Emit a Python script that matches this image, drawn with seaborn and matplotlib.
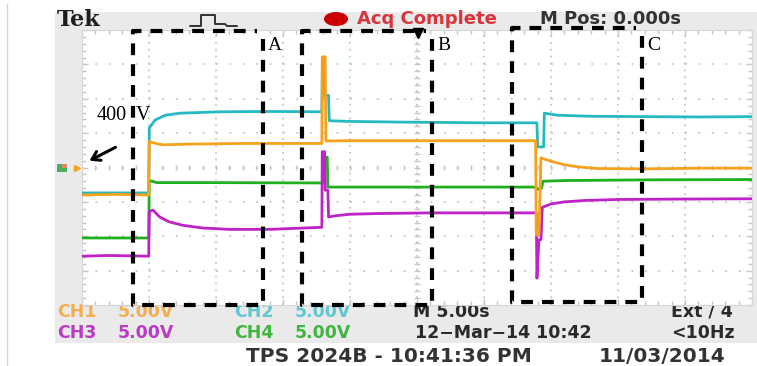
import matplotlib
matplotlib.use("Agg")
import matplotlib.pyplot as plt
from matplotlib.patches import Rectangle, Ellipse
from matplotlib.ticker import MultipleLocator
import numpy as np
import pandas as pd
import seaborn as sns

# Scope settings: 10 divisions at 5 s/div, 8 divisions at 5 V/div
SEC_PER_DIV = 5.0
VOLT_PER_DIV = 5.0

# ---- captured traces (time in s, level in V on screen) ----
ch1_t = [0.0, 2.5, 4.98, 5.02, 5.3, 6.0, 8.0, 12.0, 17.9, 17.93, 18.15, 18.2, 20.0, 26.0,
         33.85, 33.9, 34.1, 34.25, 35.0, 36.0, 37.0, 38.5, 42.0, 46.0, 50.0]
ch1_v = [-4.0, -3.9, -4.0, 3.8, 3.6, 3.3, 3.4, 3.5, 3.5, 16.1, 16.1, 3.85, 3.9, 3.9,
         3.9, -9.8, -9.8, 1.4, 0.9, 0.4, 0.1, -0.15, -0.2, -0.1, -0.1]

ch2_t = [0.0, 4.98, 5.02, 5.45, 6.2, 7.3, 10.3, 14.0, 17.9, 17.95, 18.0, 18.05, 18.4, 18.45,
         20.0, 24.0, 30.0, 33.95, 34.0, 34.45, 34.5, 35.5, 38.0, 42.0, 46.0, 50.0]
ch2_v = [-3.7, -3.7, 5.75, 6.9, 7.6, 7.9, 8.1, 8.15, 8.1, 15.9, 15.9, 10.5, 10.5, 6.8,
         6.7, 6.6, 6.5, 6.5, 3.0, 3.0, 7.9, 7.6, 7.45, 7.4, 7.35, 7.4]

ch3_t = [0.0, 2.0, 4.98, 5.02, 5.3, 5.8, 6.5, 7.5, 9.0, 11.0, 14.0, 17.9, 17.93, 18.1,
         18.15, 18.35, 18.4, 19.0, 20.0, 22.0, 26.0, 33.9, 33.95, 34.1, 34.25, 34.35,
         35.0, 36.0, 37.5, 40.0, 44.0, 50.0]
ch3_v = [-12.9, -12.8, -12.9, -6.4, -6.2, -7.2, -7.9, -8.4, -8.8, -9.0, -9.0, -8.7, 2.3, 2.3,
         -3.3, -3.3, -7.2, -7.0, -6.8, -6.7, -6.6, -6.6, -16.1, -10.5, -10.5, -5.8,
         -5.3, -5.0, -4.8, -4.65, -4.6, -4.55]

ch4_t = [0.0, 4.98, 5.02, 5.6, 10.0, 18.0, 18.05, 18.3, 18.35, 25.0, 33.9, 34.0, 34.3,
         34.4, 36.0, 42.0, 50.0]
ch4_v = [-10.25, -10.25, -1.9, -2.2, -2.2, -2.25, 1.5, 1.5, -2.85, -2.85, -2.85, -3.2, -3.0,
         -2.0, -1.9, -1.8, -1.75]

channel_order = ["CH2", "CH4", "CH3", "CH1"]
trace_colors = {"CH1": "#F5A21E", "CH2": "#25B9C0", "CH3": "#BE22C8", "CH4": "#20AF22"}
label_colors = {"CH1": "#F2AE52", "CH2": "#62C8D0", "CH3": "#BA3CC2", "CH4": "#40B640"}
volts_div_text = "5.00V"

frames = []
for name, t, v in [("CH1", ch1_t, ch1_v), ("CH2", ch2_t, ch2_v),
                   ("CH3", ch3_t, ch3_v), ("CH4", ch4_t, ch4_v)]:
    frames.append(pd.DataFrame({"time": t, "volts": v, "channel": name}))
traces = pd.concat(frames, ignore_index=True)

sns.set_style("white")
plt.rcParams["lines.scale_dashes"] = False

W, H = 757, 366
fig = plt.figure(figsize=(W / 100, H / 100), dpi=100)
fig.patch.set_facecolor("white")

# background layer in pixel coordinates
bg = fig.add_axes([0, 0, 1, 1])
bg.set_xlim(0, W)
bg.set_ylim(H, 0)
bg.axis("off")
bg.set_zorder(0)

panel_gray = "#EAEAEA"
bg.add_patch(Rectangle((55, 12), W - 55, 331, facecolor=panel_gray, edgecolor="none"))
bg.plot([7, 7], [4, H], color="#D4D4D4", lw=1.0)

# graticule area
GX0, GX1, GY0, GY1 = 82, 752, 30, 305
ax = fig.add_axes([GX0 / W, (H - GY1) / H, (GX1 - GX0) / W, (GY1 - GY0) / H])
ax.set_zorder(1)
ax.set_facecolor("white")

sns.lineplot(data=traces, x="time", y="volts", hue="channel", hue_order=channel_order,
             palette=trace_colors, estimator=None, sort=False, legend=False,
             linewidth=2.0, ax=ax, zorder=3)

ax.set_xlim(0, 10 * SEC_PER_DIV)
ax.set_ylim(-4 * VOLT_PER_DIV, 4 * VOLT_PER_DIV)
ax.set_xlabel("")
ax.set_ylabel("")

grid_c = "#C6C6C6"
for k in range(1, 8):
    ax.axhline((k - 4) * VOLT_PER_DIV, color=grid_c, lw=1.3,
               linestyle=(0, (1.3, 8.35)), zorder=1)
for k in range(1, 10):
    ax.axvline(k * SEC_PER_DIV, color=grid_c, lw=1.3,
               linestyle=(0, (1.3, 3.65)), zorder=1)

# minor ticks on the centre cross
cx = 5 * SEC_PER_DIV
minor_v = np.arange(-19, 20, 1.0)
minor_t = np.arange(1, 50, 1.0)
ax.hlines(minor_v, cx - 0.25, cx + 0.25, color=grid_c, lw=1.0, zorder=1)
ax.vlines(minor_t, -0.3, 0.3, color=grid_c, lw=1.0, zorder=1)

ax.xaxis.set_major_locator(MultipleLocator(SEC_PER_DIV))
ax.xaxis.set_minor_locator(MultipleLocator(1.0))
ax.yaxis.set_major_locator(MultipleLocator(VOLT_PER_DIV))
ax.yaxis.set_minor_locator(MultipleLocator(1.0))
ax.tick_params(which="both", direction="in", top=True, right=True, bottom=True, left=True,
               labelbottom=False, labelleft=False, color=grid_c, width=1.0)
ax.tick_params(which="major", length=4)
ax.tick_params(which="minor", length=3)
for s in ax.spines.values():
    s.set_color("#D6D6D6")
    s.set_linewidth(0.8)

# overlay layer for annotations
ov = fig.add_axes([0, 0, 1, 1])
ov.set_xlim(0, W)
ov.set_ylim(H, 0)
ov.axis("off")
ov.patch.set_alpha(0)
ov.set_zorder(2)

dash = (0, (8.5, 6.5))
regions = [("A", 133, 263, 31, 305), ("B", 302, 432, 31, 305), ("C", 512, 642, 28, 302)]
for name, x0, x1, y0, y1 in regions:
    ov.plot([x1, x1, x0, x0, x1 - 6], [y0 + 8, y1, y1, y0, y0], color="black", lw=3.0,
            linestyle=dash, solid_capstyle="butt", dash_capstyle="butt")
    ov.text(x1 + 5, 46, name, family="Liberation Serif", fontsize=14, color="black",
            ha="left", va="center")

ov.text(127, 116, "400", family="Liberation Serif", fontsize=14.5, color="black",
        ha="right", va="center")
ov.text(136, 116, "V", family="Liberation Serif", fontsize=14.5, color="black",
        ha="left", va="center")
ov.annotate("", xy=(87, 162), xytext=(118, 146),
            arrowprops=dict(arrowstyle="->,head_length=0.55,head_width=0.35", lw=2.2,
                            color="black"))

# trigger position marker and ground reference marker
ov.plot([418], [33], marker="v", markersize=7, color="black")
ov.add_patch(Rectangle((57, 164), 10, 8, facecolor="#4BAE5A", edgecolor="none"))
ov.add_patch(Rectangle((62, 164), 5, 4, facecolor="#D98A6A", edgecolor="none"))
ov.plot([77], [168], marker=">", markersize=5, color=trace_colors["CH1"])

# header bar
bg.text(57, 20, "Tek", family="DejaVu Serif", fontweight="bold", fontsize=16,
        color="#1E1E1E", ha="left", va="center")
bg.plot([190, 201, 201, 215, 215, 225, 227, 237], [26, 26, 15, 15, 24, 24, 26, 26],
        color="#333333", lw=1.4)
bg.add_patch(Ellipse((336, 19), 24, 14, facecolor="#CC0000", edgecolor="none"))
bg.text(357, 19, "Acq Complete", family="DejaVu Sans", fontweight="bold", fontsize=13,
        color="#D8343C", ha="left", va="center")
bg.text(540, 19, "M Pos: 0.000s", family="DejaVu Sans", fontweight="bold", fontsize=13,
        color="#333333", ha="left", va="center")

# channel readout panel
row1, row2 = 312, 333
pf = dict(family="DejaVu Sans", fontweight="bold", fontsize=12.5, ha="left", va="center")
bg.text(57, row1, "CH1", color=label_colors["CH1"], **pf)
bg.text(118, row1, volts_div_text, color=label_colors["CH1"], **pf)
bg.text(234, row1, "CH2", color=label_colors["CH2"], **pf)
bg.text(295, row1, volts_div_text, color=label_colors["CH2"], **pf)
bg.text(57, row2, "CH3", color=label_colors["CH3"], **pf)
bg.text(118, row2, volts_div_text, color=label_colors["CH3"], **pf)
bg.text(234, row2, "CH4", color=label_colors["CH4"], **pf)
bg.text(295, row2, volts_div_text, color=label_colors["CH4"], **pf)
bg.text(413, row1, "M 5.00s", color="#2A2A2A", **pf)
bg.text(415, row2, "12\u2212Mar\u221214 10:42", color="#2A2A2A", **pf)
bg.text(671, row1, "Ext / 4", color="#2A2A2A", **pf)
bg.text(671, row2, "<10Hz", color="#2A2A2A", **pf)

ff = dict(family="DejaVu Sans", fontweight="bold", fontsize=14.5, color="#333333", va="center")
bg.text(246, 356, "TPS 2024B - 10:41:36 PM", ha="left", **ff)
bg.text(725, 356, "11/03/2014", ha="right", **ff)

fig.savefig("out.png", dpi=100, facecolor="white")
